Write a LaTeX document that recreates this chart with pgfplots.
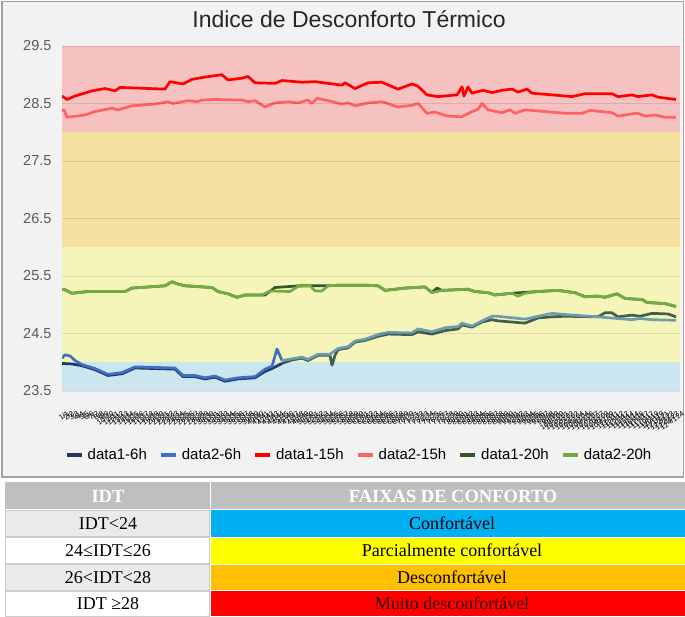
\documentclass[border=0pt]{standalone}
\usepackage{fontspec}
\setmainfont{Liberation Sans}
\newfontfamily\seriffont{Liberation Serif}
\usepackage{pgfplots}
\pgfplotsset{compat=1.18}
\definecolor{panelbg}{HTML}{F2F2F2}
\definecolor{panelborder}{HTML}{A0A0A0}
\definecolor{bandred}{RGB}{245,193,193}
\definecolor{bandorange}{RGB}{246,224,160}
\definecolor{bandyellow}{RGB}{245,245,185}
\definecolor{bandblue}{RGB}{204,230,240}
\definecolor{cA}{HTML}{1F3864}
\definecolor{cB}{HTML}{3F6FC4}
\definecolor{cC}{HTML}{FF0000}
\definecolor{cD}{HTML}{FF6262}
\definecolor{cE}{HTML}{375623}
\definecolor{cF}{HTML}{70AD47}
\definecolor{cA2}{HTML}{415E4C}
\definecolor{cB2}{HTML}{6D9BB0}
\definecolor{tickc}{HTML}{595959}
\definecolor{headgray}{HTML}{BFBFBF}
\definecolor{lightcell}{HTML}{EAEAEA}
\definecolor{tblue}{HTML}{00B0F0}
\definecolor{tyellow}{HTML}{FFFF00}
\definecolor{torange}{HTML}{FFC000}
\definecolor{tred}{HTML}{FF0000}
\begin{document}
\begin{tikzpicture}[x=1pt,y=1pt]
\path[use as bounding box] (0pt,0pt) rectangle (685pt,-616pt);
\fill[white] (0pt,0pt) rectangle (685pt,-616pt);
\filldraw[fill=panelbg, draw=panelborder, line width=1.3pt] (2pt,-1.5pt) rectangle (683.5pt,-477pt);
\begin{axis}[
  at={(62pt,-391pt)}, anchor=south west, scale only axis,
  width=618pt, height=345pt,
  xmin=62, xmax=680, ymin=23.5, ymax=29.5,
  axis line style={draw=none}, major tick length=0pt,
  axis on top,
  ytick={23.5,24.5,25.5,26.5,27.5,28.5,29.5},
  ymajorgrids, grid style={black, opacity=0.10, line width=1pt},
  yticklabel style={font=\fontsize{14.5}{16}\selectfont, text=tickc, xshift=-7pt},
  yticklabel={\pgfmathprintnumber[fixed,fixed zerofill,precision=1,assume math mode=true]{\tick}},
  xtick={62,67,...,677},
  xticklabel={\pgfmathtruncatemacro{\idx}{(\tick-62)/5+1}\idx/\idx},
  xticklabel style={rotate=35, anchor=north east, yshift=-18pt, xshift=-7pt, font=\fontsize{7.5}{8}\selectfont, text=black, inner sep=0.3pt},
  legend columns=6,
  legend style={at={(0.4806,-0.1855)}, anchor=center, draw=none, fill=none,
    font=\fontsize{15}{17}\selectfont, inner sep=0pt,
    /tikz/every odd column/.append style={column sep=2pt},
    /tikz/every even column/.append style={column sep=10pt}},
  legend image code/.code={\draw[#1, line width=4pt] (0pt,0pt) -- (15pt,0pt);},
  every axis plot/.append style={line width=2.7pt, line join=round},
]
% comfort bands
\addplot[draw=none, fill=bandred, forget plot] coordinates {(62,28) (680,28) (680,29.5) (62,29.5)} -- cycle;
\addplot[draw=none, fill=bandorange, forget plot] coordinates {(62,26) (680,26) (680,28) (62,28)} -- cycle;
\addplot[draw=none, fill=bandyellow, forget plot] coordinates {(62,24) (680,24) (680,26) (62,26)} -- cycle;
\addplot[draw=none, fill=bandblue, forget plot] coordinates {(62,23.5) (680,23.5) (680,24) (62,24)} -- cycle;

% data1-6h (first part)
\addplot[cA] coordinates {
(62,23.98) (72,23.97) (82,23.94) (95,23.87) (108,23.77) (122,23.80) (135,23.90) (175,23.88)
(183,23.75) (195,23.75) (205,23.71) (215,23.74) (225,23.67) (238,23.71) (255,23.73) (265,23.84)
(272,23.89) (282,23.98)};
\addlegendentry{data1-6h}
% data2-6h (first part)
\addplot[cB] coordinates {
(62,24.07) (65,24.13) (70,24.11) (75,24.03) (82,23.96) (95,23.89) (108,23.79) (122,23.82)
(135,23.92) (175,23.90) (183,23.77) (195,23.77) (205,23.73) (215,23.76) (225,23.69) (238,23.73)
(255,23.75) (265,23.88) (272,23.93) (277,24.23) (282,24.03)};
\addlegendentry{data2-6h}
% data1-15h
\addplot[cC] coordinates {
(62,28.63) (67,28.57) (75,28.63) (92,28.72) (105,28.76) (115,28.72) (120,28.78) (165,28.75)
(170,28.88) (183,28.84) (192,28.92) (205,28.96) (222,29.00) (228,28.91) (242,28.94) (248,28.97)
(255,28.86) (275,28.85) (282,28.90) (302,28.87) (315,28.88) (328,28.85) (342,28.82) (345,28.86)
(355,28.76) (368,28.86) (382,28.87) (398,28.75) (412,28.84) (418,28.80) (427,28.65) (438,28.62)
(457,28.65) (462,28.79) (464,28.63) (468,28.79) (472,28.68) (483,28.73) (492,28.69) (502,28.73)
(512,28.75) (518,28.70) (527,28.75) (532,28.68) (552,28.65) (572,28.62) (585,28.67) (612,28.67)
(618,28.62) (632,28.65) (638,28.62) (652,28.65) (658,28.61) (676,28.57)};
\addlegendentry{data1-15h}
% data2-15h
\addplot[cD] coordinates {
(62,28.38) (64,28.39) (67,28.26) (85,28.30) (95,28.36) (112,28.42) (118,28.39) (132,28.46)
(155,28.49) (168,28.53) (173,28.50) (188,28.55) (197,28.53) (202,28.56) (215,28.57) (242,28.56)
(248,28.53) (255,28.55) (265,28.44) (275,28.51) (288,28.53) (298,28.51) (308,28.56) (312,28.50)
(317,28.59) (328,28.55) (342,28.49) (348,28.51) (355,28.46) (368,28.51) (382,28.53) (398,28.44)
(412,28.47) (418,28.50) (427,28.33) (435,28.35) (448,28.28) (462,28.27) (472,28.36) (478,28.40)
(482,28.50) (488,28.39) (502,28.34) (510,28.39) (515,28.33) (525,28.39) (545,28.36) (565,28.33)
(582,28.33) (590,28.38) (612,28.34) (618,28.28) (632,28.32) (638,28.33) (645,28.28) (655,28.30)
(665,28.26) (676,28.26)};
\addlegendentry{data2-15h}
% data1-20h
\addplot[cE] coordinates {
(62,25.27) (65,25.26) (72,25.20) (88,25.23) (125,25.23) (132,25.29) (165,25.33) (172,25.40)
(178,25.36) (185,25.33) (212,25.30) (218,25.23) (228,25.19) (237,25.13) (245,25.17) (265,25.17)
(275,25.30) (300,25.33) (310,25.33) (328,25.33) (338,25.34) (365,25.34) (378,25.33) (385,25.25)
(405,25.29) (425,25.31) (432,25.21) (437,25.29) (442,25.25) (468,25.27) (475,25.23) (488,25.21)
(495,25.17) (512,25.20) (538,25.23) (558,25.25) (575,25.21) (585,25.14) (598,25.15) (605,25.13)
(617,25.19) (625,25.11) (642,25.09) (647,25.04) (665,25.02) (676,24.97)};
\addlegendentry{data1-20h}
% data2-20h
\addplot[cF] coordinates {
(62,25.27) (65,25.26) (72,25.20) (88,25.23) (125,25.23) (132,25.29) (165,25.33) (172,25.40)
(178,25.36) (185,25.33) (212,25.30) (218,25.23) (228,25.19) (237,25.13) (245,25.17) (262,25.17)
(270,25.24) (290,25.23) (298,25.32) (310,25.33) (315,25.24) (322,25.24) (328,25.33) (338,25.34)
(365,25.34) (378,25.33) (385,25.25) (405,25.29) (425,25.31) (432,25.21) (437,25.23) (442,25.25)
(468,25.27) (475,25.23) (488,25.21) (495,25.17) (512,25.20) (518,25.15) (525,25.20) (538,25.23)
(558,25.25) (575,25.21) (585,25.14) (598,25.15) (605,25.13) (617,25.19) (625,25.11) (642,25.09)
(647,25.04) (665,25.02) (676,24.97)};
\addlegendentry{data2-20h}
% data1-6h (second part)
\addplot[cA2, forget plot] coordinates {
(282,23.98) (292,24.04) (302,24.07) (308,24.03) (318,24.12) (330,24.12) (332,23.95) (335,24.12)
(338,24.22) (348,24.25) (355,24.35) (365,24.38) (378,24.45) (388,24.49) (412,24.48) (418,24.53)
(432,24.49) (445,24.55) (458,24.58) (462,24.65) (472,24.61) (482,24.70) (492,24.74) (498,24.72)
(525,24.68) (538,24.77) (552,24.79) (565,24.80) (598,24.79) (605,24.86) (612,24.86) (618,24.79)
(632,24.82) (640,24.80) (652,24.85) (668,24.84) (676,24.79)};
% data2-6h (second part)
\addplot[cB2, forget plot] coordinates {
(282,24.03) (292,24.06) (302,24.09) (308,24.05) (318,24.14) (330,24.14) (338,24.24) (348,24.27)
(355,24.37) (365,24.40) (378,24.48) (388,24.52) (412,24.51) (418,24.58) (432,24.53) (445,24.60)
(458,24.62) (462,24.68) (472,24.63) (482,24.72) (492,24.80) (498,24.80) (525,24.75) (538,24.80)
(552,24.85) (565,24.83) (598,24.79) (618,24.76) (632,24.74) (640,24.76) (652,24.74) (676,24.73)};
\end{axis}
\node[font=\fontsize{23}{27}\selectfont, text=black!85] at (349pt,-19pt) {Indice de Desconforto Térmico};
% comfort table
\fill[headgray] (5pt,-482pt) rectangle (685pt,-509pt);
\draw[white, line width=1pt] (210pt,-482pt) -- (210pt,-509pt);
\node[text=white, font=\seriffont\bfseries\fontsize{18.5}{20}\selectfont] at (108pt,-496pt) {IDT};
\node[text=white, font=\seriffont\bfseries\fontsize{18.5}{20}\selectfont] at (453pt,-496pt) {FAIXAS DE CONFORTO};
\filldraw[fill=lightcell, draw=black!20, line width=0.8pt] (5pt,-510pt) rectangle (209pt,-536.5pt);
\filldraw[fill=white, draw=black!20, line width=0.8pt] (5pt,-537.5pt) rectangle (209pt,-563.5pt);
\filldraw[fill=lightcell, draw=black!20, line width=0.8pt] (5pt,-564.5pt) rectangle (209pt,-590pt);
\filldraw[fill=white, draw=black!20, line width=0.8pt] (5pt,-591pt) rectangle (209pt,-616pt);
\fill[tblue] (211pt,-510pt) rectangle (685pt,-536.5pt);
\fill[tyellow] (211pt,-537.5pt) rectangle (685pt,-563.5pt);
\fill[torange] (211pt,-564.5pt) rectangle (685pt,-590pt);
\fill[tred] (211pt,-591pt) rectangle (685pt,-616pt);
\begin{scope}[every node/.style={font=\seriffont\fontsize{18}{20}\selectfont, text=black}]
\node at (108pt,-523.5pt) {IDT<24};
\node at (108pt,-550.5pt) {24≤IDT≤26};
\node at (108pt,-577.5pt) {26<IDT<28};
\node at (108pt,-603.5pt) {IDT ≥28};
\node at (452pt,-523.5pt) {Confortável};
\node at (452pt,-550.5pt) {Parcialmente confortável};
\node at (452pt,-577.5pt) {Desconfortável};
\node[text=black!80!red] at (452pt,-603.5pt) {Muito desconfortável};
\end{scope}
\end{tikzpicture}
\end{document}
